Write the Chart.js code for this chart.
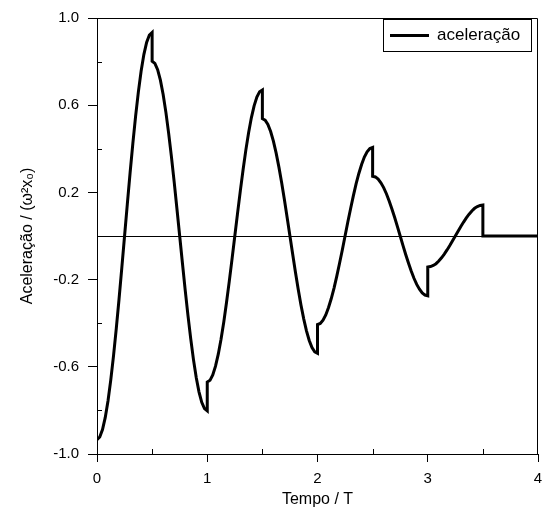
<!DOCTYPE html>
<html>
<head>
<meta charset="utf-8">
<script src="https://cdn.jsdelivr.net/npm/chart.js@4.4.0/dist/chart.umd.min.js"></script>
<style>
    html, body { margin: 0; padding: 0; background: #fff; }
</style>
</head>
<body>
<canvas id="accelChart" width="553" height="521"></canvas>
<script>
// time offsets inside one half period (in units of T)
const phase = [0, 0.025, 0.05, 0.075, 0.1, 0.125, 0.15, 0.175, 0.2, 0.225, 0.25,
               0.275, 0.3, 0.325, 0.35, 0.375, 0.4, 0.425, 0.45, 0.475, 0.5];
// start time of each half period
const segStart = [0, 0.5, 1, 1.5, 2, 2.5, 3];

// acceleration, one list per half period
const seg0 = [-0.934, -0.922, -0.888, -0.832, -0.756, -0.660, -0.549, -0.424, -0.289, -0.146, 0,
              0.146, 0.289, 0.424, 0.549, 0.660, 0.756, 0.832, 0.888, 0.922, 0.934];
const seg1 = [0.802, 0.792, 0.763, 0.715, 0.649, 0.567, 0.471, 0.364, 0.248, 0.125, 0,
              -0.125, -0.248, -0.364, -0.471, -0.567, -0.649, -0.715, -0.763, -0.792, -0.802];
const seg2 = [-0.670, -0.662, -0.637, -0.597, -0.542, -0.474, -0.394, -0.304, -0.207, -0.105, 0,
              0.105, 0.207, 0.304, 0.394, 0.474, 0.542, 0.597, 0.637, 0.662, 0.670];
const seg3 = [0.538, 0.531, 0.512, 0.479, 0.435, 0.380, 0.316, 0.244, 0.166, 0.084, 0,
              -0.084, -0.166, -0.244, -0.316, -0.380, -0.435, -0.479, -0.512, -0.531, -0.538];
const seg4 = [-0.406, -0.401, -0.386, -0.362, -0.328, -0.287, -0.239, -0.184, -0.125, -0.064, 0,
              0.064, 0.125, 0.184, 0.239, 0.287, 0.328, 0.362, 0.386, 0.401, 0.406];
const seg5 = [0.274, 0.271, 0.261, 0.244, 0.222, 0.194, 0.161, 0.124, 0.085, 0.043, 0,
              -0.043, -0.085, -0.124, -0.161, -0.194, -0.222, -0.244, -0.261, -0.271, -0.274];
const seg6 = [-0.142, -0.140, -0.135, -0.127, -0.115, -0.100, -0.083, -0.064, -0.044, -0.022, 0,
              0.022, 0.044, 0.064, 0.083, 0.100, 0.115, 0.127, 0.135, 0.140, 0.142];
const segments = [seg0, seg1, seg2, seg3, seg4, seg5, seg6];

// block at rest after 3.5 T
const restTime = [3.5, 4];
const restAccel = [0, 0];

const yMinor = [-0.8, -0.4, 0, 0.4, 0.8];
const xMinor = [0.5, 1.5, 2.5, 3.5];

const FONT = "'Liberation Sans', Arial, sans-serif";

const points = [];
segments.forEach((seg, i) => {
    seg.forEach((v, k) => points.push({ x: segStart[i] + phase[k], y: v }));
});
restTime.forEach((t, i) => points.push({ x: t, y: restAccel[i] }));

// zero line, frame, inner minor ticks and the boxed legend
const framePlugin = {
    id: 'frame',
    beforeDatasetsDraw(chart) {
        const { ctx, chartArea: a, scales: { y } } = chart;
        const py = Math.round(y.getPixelForValue(0)) + 0.5;
        ctx.save();
        ctx.strokeStyle = '#000';
        ctx.lineWidth = 1;
        ctx.beginPath();
        ctx.moveTo(a.left, py);
        ctx.lineTo(a.right, py);
        ctx.stroke();
        ctx.restore();
    },
    afterDraw(chart) {
        const { ctx, chartArea: a, scales: { x, y } } = chart;
        ctx.save();
        ctx.strokeStyle = '#000';
        ctx.lineWidth = 1;
        ctx.beginPath();
        ctx.moveTo(a.left, a.top + 0.5);
        ctx.lineTo(a.right - 0.5, a.top + 0.5);
        ctx.lineTo(a.right - 0.5, a.bottom);
        yMinor.forEach(v => {
            const py = Math.round(y.getPixelForValue(v)) + 0.5;
            ctx.moveTo(a.left, py);
            ctx.lineTo(a.left + 5, py);
        });
        xMinor.forEach(v => {
            const px = Math.round(x.getPixelForValue(v)) + 0.5;
            ctx.moveTo(px, a.bottom);
            ctx.lineTo(px, a.bottom - 5);
        });
        ctx.stroke();

        // legend
        ctx.strokeRect(383.5, 19.5, 148, 32);
        ctx.lineWidth = 3;
        ctx.beginPath();
        ctx.moveTo(390, 35.5);
        ctx.lineTo(429, 35.5);
        ctx.stroke();
        ctx.fillStyle = '#000';
        ctx.font = '17px ' + FONT;
        ctx.textBaseline = 'middle';
        ctx.fillText(chart.data.datasets[0].label, 437, 35);
        ctx.restore();
    }
};

new Chart(document.getElementById('accelChart'), {
    type: 'scatter',
    data: {
        datasets: [{
            label: 'aceleração',
            data: points,
            showLine: true,
            borderColor: '#000',
            borderWidth: 3,
            pointRadius: 0,
            tension: 0
        }]
    },
    options: {
        responsive: false,
        animation: false,
        layout: { padding: { top: 15, right: 15, left: 0, bottom: 0 } },
        plugins: {
            legend: { display: false },
            tooltip: { enabled: false }
        },
        scales: {
            x: {
                type: 'linear',
                min: 0,
                max: 4,
                ticks: { stepSize: 1, color: '#000', font: { family: FONT, size: 15 }, padding: 8 },
                grid: { drawOnChartArea: false, tickLength: 8, color: '#000' },
                border: { color: '#000', width: 1 },
                title: {
                    display: true, text: 'Tempo / T', color: '#000',
                    font: { family: FONT, size: 16 }, padding: { bottom: 12 }
                },
                afterFit: s => { s.height = 67; }
            },
            y: {
                min: -1,
                max: 1,
                ticks: {
                    stepSize: 0.4, color: '#000', font: { family: FONT, size: 15 }, padding: 9,
                    callback: v => v.toFixed(1)
                },
                grid: { drawOnChartArea: false, tickLength: 9, color: '#000' },
                border: { color: '#000', width: 1 },
                title: {
                    display: true, text: 'Aceleração / (ω²x₀)', color: '#000',
                    font: { family: FONT, size: 16 }, padding: { top: 18 }
                },
                afterFit: s => { s.width = 97; }
            }
        }
    },
    plugins: [framePlugin]
});
</script>
</body>
</html>
